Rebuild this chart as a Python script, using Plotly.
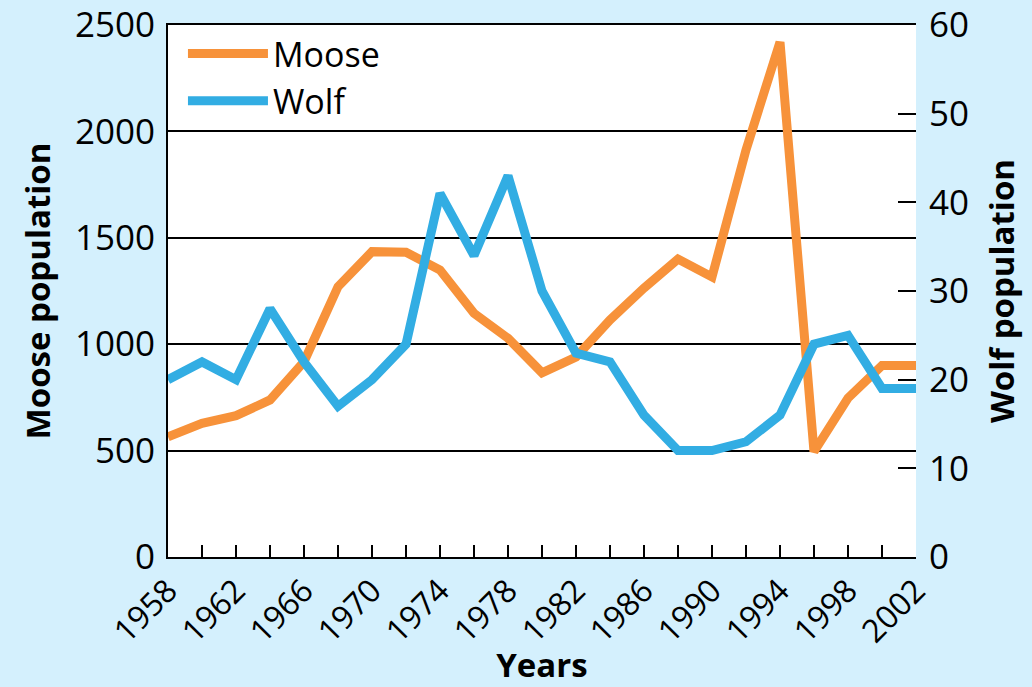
import plotly.graph_objects as go

years = [1958, 1960, 1962, 1964, 1966, 1968, 1970, 1972, 1974, 1976, 1978, 1980,
         1982, 1984, 1986, 1988, 1990, 1992, 1994, 1996, 1998, 2000, 2002]
moose = [565, 628, 664, 738, 918, 1270, 1435, 1432, 1349, 1145, 1028, 866,
         940, 1114, 1264, 1400, 1316, 1913, 2420, 495, 747, 900, 900]
wolf = [20, 22, 20, 28, 22, 17, 20, 24, 41, 34, 43, 30,
        23, 22, 16, 12, 12, 13, 16, 24, 25, 19, 19]

x_tick_vals = list(range(1958, 2003, 2))
x_tick_text = [str(y) if (y - 1958) % 4 == 0 else "" for y in x_tick_vals]
left_ticks = [0, 500, 1000, 1500, 2000, 2500]
right_ticks = [0, 10, 20, 30, 40, 50, 60]

ORANGE = "#F7923A"
BLUE = "#32ADE3"
BG = "#D4F0FD"
FONT = "Open Sans"

fig = go.Figure()
fig.add_trace(go.Scatter(x=years, y=moose, name="Moose", mode="lines",
                         line=dict(color=ORANGE, width=9), yaxis="y"))
fig.add_trace(go.Scatter(x=years, y=wolf, name="Wolf", mode="lines",
                         line=dict(color=BLUE, width=9), yaxis="y2"))

fig.update_layout(
    width=1032, height=687,
    margin=dict(l=168, r=116, t=25, b=130, pad=0),
    paper_bgcolor=BG, plot_bgcolor="white",
    font=dict(family=FONT, size=34, color="black"),
    showlegend=True,
    legend=dict(x=0.02, y=1.0, xanchor="left", yanchor="top",
                bgcolor="rgba(0,0,0,0)", font=dict(size=34),
                itemwidth=80, tracegroupgap=0),
    xaxis=dict(range=[1958, 2002], tickvals=x_tick_vals, ticktext=x_tick_text,
               ticks="inside", ticklen=12, tickwidth=2, tickcolor="black",
               tickangle=-45, showgrid=False, zeroline=False, automargin=False,
               showline=True, linecolor="black", linewidth=2, mirror=True,
               tickfont=dict(size=32),
               title=dict(text="<b>Years</b>", font=dict(size=33), standoff=6)),
    yaxis=dict(range=[0, 2500], tickvals=left_ticks, ticks="", automargin=False,
               showgrid=True, gridcolor="black", gridwidth=2, zeroline=False,
               showline=True, linecolor="black", linewidth=2,
               tickfont=dict(size=35), ticklabelstandoff=4,
               title=dict(text="<b>Moose population</b>", font=dict(size=33), standoff=14)),
    yaxis2=dict(range=[0, 60], tickvals=right_ticks, overlaying="y", side="right",
                ticks="inside", ticklen=18, tickwidth=2, tickcolor="black",
                automargin=False,
                showgrid=False, zeroline=False, showline=False,
                tickfont=dict(size=35), ticklabelstandoff=12,
                title=dict(text="<b>Wolf population</b>", font=dict(size=33), standoff=22)),
)

fig.write_html("out.html", config={"displayModeBar": False},
               post_script="document.body.style.margin='0';document.body.style.overflow='hidden';")
